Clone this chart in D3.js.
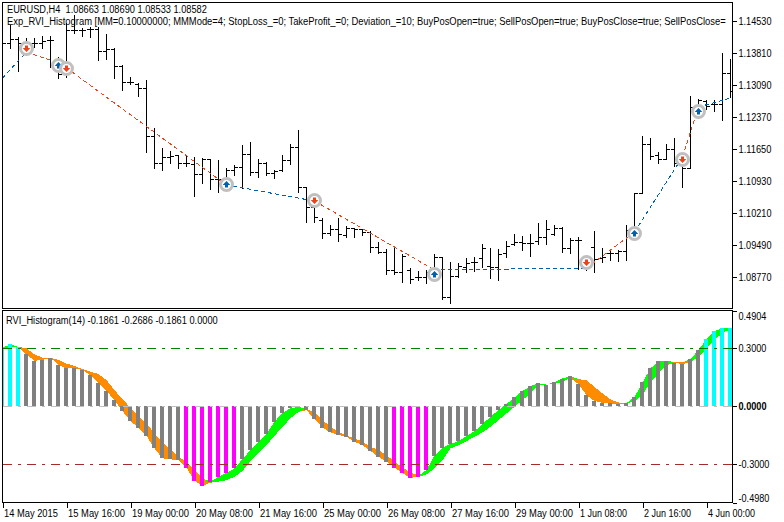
<!DOCTYPE html>
<html>
<head>
<meta charset="utf-8">
<style>
body { margin: 0; background: #fff; }
text { font-family: "Liberation Sans", sans-serif; font-size: 11px; fill: #000; white-space: pre; }
</style>
<script src="https://cdn.jsdelivr.net/npm/d3@7"></script>
</head>
<body>
<div id="chart"></div>
<script>
// price bars (EURUSD H4)
var opens = [1.14215,1.14035,1.14125,1.14035,1.14035,1.14035,1.14103,1.13653,1.13338,1.14328,1.14328,1.14350,1.14350,1.13855,1.13900,1.13518,1.13158,1.13113,1.13023,1.11943,1.11335,1.11470,1.11515,1.11335,1.11313,1.11088,1.11425,1.10975,1.10953,1.11178,1.11245,1.11538,1.11133,1.11335,1.11110,1.11178,1.11403,1.11695,1.10795,1.10345,1.10053,1.09760,1.09850,1.09715,1.09873,1.09850,1.09783,1.09445,1.09333,1.08928,1.08883,1.08928,1.08770,1.08770,1.08815,1.09220,1.08320,1.08793,1.08995,1.09108,1.09198,1.09018,1.08995,1.09310,1.09513,1.09558,1.09535,1.09580,1.09670,1.09738,1.09873,1.09423,1.09603,1.09108,1.09445,1.09198,1.09310,1.09310,1.09355,1.09828,1.10660,1.11763,1.11515,1.11425,1.11650,1.11335,1.11223,1.12595,1.12730,1.12663,1.12663,1.13360];
var highs = [1.14440,1.14440,1.14170,1.14148,1.14148,1.14193,1.14193,1.13720,1.14485,1.14665,1.14373,1.14395,1.14395,1.14238,1.13923,1.13540,1.13270,1.13135,1.13203,1.12123,1.11673,1.11605,1.11515,1.11515,1.11470,1.11448,1.11425,1.11403,1.11223,1.11290,1.11740,1.11808,1.11425,1.11358,1.11178,1.11515,1.11763,1.12078,1.10795,1.10615,1.10098,1.09940,1.10098,1.09918,1.09873,1.09850,1.09805,1.09558,1.09400,1.09423,1.09288,1.08973,1.08905,1.08928,1.09288,1.09220,1.09108,1.09085,1.09198,1.09220,1.09513,1.09423,1.09400,1.09580,1.09738,1.09693,1.09738,1.09985,1.10053,1.09940,1.09895,1.09648,1.09670,1.09265,1.09805,1.09423,1.09355,1.09378,1.09940,1.10660,1.11943,1.11898,1.11583,1.11763,1.11898,1.11515,1.12843,1.12775,1.12753,1.12753,1.13810,1.13675];
var lows = [1.13878,1.13923,1.13405,1.13765,1.13945,1.13923,1.13495,1.13248,1.13270,1.14260,1.14193,1.14170,1.13653,1.13675,1.13248,1.12978,1.13113,1.12843,1.11583,1.11223,1.11178,1.11335,1.11223,1.11268,1.10593,1.10885,1.10750,1.10683,1.10840,1.11065,1.10773,1.11065,1.11020,1.11065,1.10998,1.11155,1.11313,1.10683,1.10008,1.10008,1.09648,1.09715,1.09580,1.09670,1.09670,1.09715,1.09333,1.09310,1.08838,1.08838,1.08658,1.08635,1.08703,1.08635,1.08703,1.08275,1.08185,1.08770,1.08883,1.08905,1.08995,1.08748,1.08703,1.09220,1.09490,1.09378,1.09243,1.09513,1.09513,1.09715,1.09333,1.09310,1.08950,1.08928,1.08883,1.09108,1.09153,1.09130,1.09153,1.09828,1.10660,1.11425,1.11335,1.11425,1.11268,1.10795,1.11223,1.12348,1.12550,1.12505,1.12303,1.12820];
var closes = [1.14035,1.14125,1.14035,1.14035,1.14035,1.14080,1.14103,1.13338,1.14328,1.14328,1.14328,1.14350,1.13855,1.13900,1.13518,1.13158,1.13158,1.13023,1.11943,1.11335,1.11470,1.11493,1.11335,1.11335,1.11088,1.11425,1.10975,1.10975,1.11178,1.11245,1.11538,1.11133,1.11335,1.11110,1.11155,1.11403,1.11695,1.10795,1.10345,1.10120,1.09760,1.09850,1.09738,1.09873,1.09850,1.09783,1.09445,1.09333,1.08928,1.08883,1.09243,1.08725,1.08770,1.08883,1.09220,1.08320,1.08793,1.09018,1.09085,1.09108,1.09423,1.08995,1.09288,1.09468,1.09558,1.09535,1.09535,1.09670,1.09850,1.09873,1.09423,1.09603,1.09603,1.09018,1.09175,1.09220,1.09310,1.09355,1.09828,1.10660,1.11763,1.11493,1.11425,1.11650,1.11335,1.11223,1.12595,1.12753,1.12618,1.12663,1.13360,1.12955];

// RVI indicator, one value per bar
var rvi = [.302,.317,.305,.266,.233,.238,.249,.211,.194,.194,.185,.159,.117,.077,.031,-.026,-.077,-.111,-.153,-.218,-.269,-.274,-.278,-.317,-.384,-.410,-.389,-.364,-.343,-.321,-.273,-.226,-.187,-.141,-.081,-.034,-.012,-.003,-.021,-.067,-.111,-.135,-.149,-.158,-.183,-.201,-.230,-.261,-.286,-.316,-.346,-.369,-.364,-.329,-.255,-.214,-.195,-.180,-.154,-.129,-.093,-.055,-.021,.010,.045,.077,.103,.117,.111,.122,.142,.153,.113,.057,.026,.017,.014,.010,.015,.046,.122,.194,.231,.231,.223,.216,.242,.288,.345,.386,.400,.403];
var signal = [.288,.305,.302,.297,.266,.249,.249,.237,.219,.206,.190,.177,.165,.134,.082,.036,-.009,-.055,-.089,-.141,-.187,-.221,-.261,-.286,-.329,-.372,-.394,-.389,-.381,-.364,-.333,-.283,-.243,-.201,-.153,-.106,-.063,-.029,-.015,-.033,-.072,-.106,-.132,-.153,-.166,-.183,-.209,-.226,-.252,-.286,-.316,-.341,-.358,-.352,-.321,-.278,-.218,-.201,-.180,-.158,-.135,-.106,-.072,-.038,-.003,.031,.065,.108,.111,.115,.125,.144,.139,.132,.099,.065,.034,.019,.014,.026,.057,.125,.168,.211,.228,.225,.228,.254,.297,.340,.377,.396];

// trade path and the deal markers
var tradeIdx = [0,3,7,8,28,39,54,73,79,85,87,91];
var tradePrice = [1.13248,1.13833,1.13585,1.13473,1.10840,1.10480,1.08928,1.08973,1.09783,1.11470,1.12595,1.12798];
var tradeDir = ["up","down","up","down","up","down","up","down","up","down","up"];
var dealIdx = [3,7,8,28,39,54,73,79,85,87];
var dealPrice = [1.13923,1.13540,1.13473,1.10863,1.10503,1.08838,1.09108,1.09760,1.11425,1.12505];
var dealDir = ["down","up","down","up","down","up","down","up","down","up"];

// axes
var priceTicks = [1.14530,1.13810,1.13090,1.12370,1.11650,1.10930,1.10210,1.09490,1.08770];
var rviTicks = [0.4904,0.3000,0.0000,-0.3000,-0.4980];
var levels = [0.3, 0, -0.3];
var levelColors = ["#008000", "#c0c0c0", "#a52a2a"];
var dateIdx = [0,8,16,24,32,40,48,56,64,72,80,88];
var dateLabels = ["14 May 2015","15 May 16:00","19 May 00:00","20 May 08:00","21 May 16:00","25 May 00:00","26 May 08:00","27 May 16:00","29 May 00:00","1 Jun 08:00","2 Jun 16:00","4 Jun 00:00"];
var captions = ["EURUSD,H4  1.08663 1.08690 1.08533 1.08582",
    "Exp_RVI_Histogram [MM=0.10000000; MMMode=4; StopLoss_=0; TakeProfit_=0; Deviation_=10; BuyPosOpen=true; SellPosOpen=true; BuyPosClose=true; SellPosClose=",
    "RVI_Histogram(14) -0.1861 -0.2686 -0.1861 0.0000"];

var red = "#e8431a", blue = "#0060b0";

var svg = d3.select("#chart").append("svg")
    .attr("width", 784)
    .attr("height", 522)
    .style("display", "block");

var x = d3.scaleLinear().domain([0, 91]).range([2.5, 730.5]);
var y = d3.scaleLinear().domain([1.14530, 1.08770]).range([21, 277]);
var yr = d3.scaleLinear().domain([0.3, -0.3]).range([347.8, 464.4]);
var py = function(v) { return Math.round(y(v)) + 0.5; };

// squeeze a text to a given width, the chart font runs narrow
function fit(node, left, width) {
    var len = node.getComputedTextLength();
    d3.select(node).attr("x", 0).attr("transform", `translate(${left}, 0) scale(${width / len}, 1)`);
}

// clip so nothing spills over the panel frames
svg.append("clipPath").attr("id", "top-clip").append("rect")
    .attr("x", 3).attr("y", 3).attr("width", 729).attr("height", 305);
svg.append("clipPath").attr("id", "low-clip").append("rect")
    .attr("x", 3).attr("y", 311).attr("width", 729).attr("height", 191);

//// upper panel
var upper = svg.append("g").attr("clip-path", "url(#top-clip)");

// bars
var bars = upper.append("g").attr("stroke", "#000").attr("shape-rendering", "crispEdges")
    .selectAll("g").data(opens).enter().append("g");
bars.append("line")
    .attr("x1", (d, i) => x(i)).attr("x2", (d, i) => x(i))
    .attr("y1", (d, i) => py(highs[i]) - 0.5).attr("y2", (d, i) => py(lows[i]) + 0.5);
bars.append("line")
    .attr("x1", (d, i) => x(i) - 3.5).attr("x2", (d, i) => x(i))
    .attr("y1", d => py(d)).attr("y2", d => py(d));
bars.append("line")
    .attr("x1", (d, i) => x(i)).attr("x2", (d, i) => x(i) + 3.5)
    .attr("y1", (d, i) => py(closes[i])).attr("y2", (d, i) => py(closes[i]));

// dashed trade lines
upper.append("g").attr("fill", "none").attr("stroke-dasharray", "4 3").attr("shape-rendering", "crispEdges")
    .selectAll("line").data(tradeDir).enter().append("line")
    .attr("stroke", d => d == "up" ? blue : red)
    .attr("x1", (d, i) => x(tradeIdx[i])).attr("y1", (d, i) => y(tradePrice[i]))
    .attr("x2", (d, i) => x(tradeIdx[i + 1])).attr("y2", (d, i) => y(tradePrice[i + 1]));

// deal markers: grey ring with an arrow in it
var deals = upper.append("g").selectAll("g").data(dealDir).enter().append("g")
    .attr("transform", (d, i) => `translate(${x(dealIdx[i])}, ${py(dealPrice[i])})`);
deals.append("circle").attr("r", 6)
    .attr("fill", "#fff").attr("stroke", "#c0c0c0").attr("stroke-width", 3);
deals.append("path")
    .attr("d", d => d == "up"
        ? "M0,-3.5L3.8,0.5L1.5,0.5L1.5,3L-1.5,3L-1.5,0.5L-3.8,0.5Z"
        : "M0,3.5L3.8,-0.5L1.5,-0.5L1.5,-3L-1.5,-3L-1.5,-0.5L-3.8,-0.5Z")
    .attr("fill", d => d == "up" ? blue : red);

//// lower panel
var lower = svg.append("g").attr("clip-path", "url(#low-clip)");

// cloud between the two lines
var greenArea = d3.area().x((d, i) => x(i))
    .y0((d, i) => yr(signal[i])).y1((d, i) => yr(Math.max(d, signal[i])));
var orangeArea = d3.area().x((d, i) => x(i))
    .y0((d, i) => yr(signal[i])).y1((d, i) => yr(Math.min(d, signal[i])));
lower.append("path").attr("d", orangeArea(rvi)).attr("fill", "#ff8c00").attr("shape-rendering", "crispEdges");
lower.append("path").attr("d", greenArea(rvi)).attr("fill", "#00ff00").attr("shape-rendering", "crispEdges");

// histogram
lower.append("g").attr("shape-rendering", "crispEdges")
    .selectAll("rect").data(rvi).enter().append("rect")
    .attr("x", (d, i) => x(i) - 2.5)
    .attr("width", 4)
    .attr("y", d => Math.min(yr(d), yr(0)))
    .attr("height", d => Math.abs(yr(d) - yr(0)))
    .attr("fill", d => d > 0.3 ? "#00ffff" : d < -0.3 ? "#ff00ff" : "#808080");

// level lines
lower.append("g").selectAll("line").data(levels).enter().append("line")
    .attr("x1", 3).attr("x2", 732)
    .attr("y1", d => Math.round(yr(d)) + 0.5).attr("y2", d => Math.round(yr(d)) + 0.5)
    .attr("stroke", (d, i) => levelColors[i])
    .attr("stroke-dasharray", "9 6 3 6")
    .attr("shape-rendering", "crispEdges");

//// frames
svg.append("g").attr("fill", "none").attr("stroke", "#000").attr("shape-rendering", "crispEdges")
    .selectAll("rect").data([[2.5, 2.5, 730, 306], [2.5, 310.5, 730, 192]]).enter().append("rect")
    .attr("x", d => d[0]).attr("y", d => d[1]).attr("width", d => d[2]).attr("height", d => d[3]);

//// axes (toFixed keeps the plain hyphen the terminal prints)
var priceAxis = d3.axisRight(y).tickValues(priceTicks).tickFormat(d => d.toFixed(5)).tickSize(4).tickPadding(2);
var rviAxis = d3.axisRight(yr).tickValues(rviTicks).tickFormat(d => d.toFixed(4)).tickSize(4).tickPadding(2);
var dateAxis = d3.axisBottom(x).tickValues(dateIdx).tickFormat((d, i) => dateLabels[i]).tickSize(5).tickPadding(2);

var gPrice = svg.append("g").attr("transform", "translate(732.5, 0)").call(priceAxis);
var gRvi = svg.append("g").attr("transform", "translate(732.5, 0)").call(rviAxis);
var gDate = svg.append("g").attr("transform", "translate(0, 502.5)").call(dateAxis);

[gPrice, gRvi, gDate].forEach(function(g) {
    g.select(".domain").remove();
    g.attr("font-family", null).attr("font-size", null);
    g.selectAll("line").attr("stroke", "#000").attr("shape-rendering", "crispEdges");
    g.selectAll("text").attr("fill", "#000");
});

// first and last scale labels sit inside the panel
gPrice.selectAll("text").attr("dy", "0.32em").each(function() { fit(this, 6, 33); });
gRvi.selectAll("text")
    .attr("dy", (d, i) => i == 0 ? "0.8em" : i == rviTicks.length - 1 ? "-0.1em" : "0.32em")
    .attr("font-weight", d => d == 0 ? "bold" : null)
    .each(function(d) { fit(this, 6, d < 0 ? 31 : 28); });

gDate.selectAll("text")
    .attr("text-anchor", "start")
    .each(function(d, i) { fit(this, 1, i == 0 ? 54 : dateLabels[i].length == 11 ? 47 : 57); });

//// captions
var capLeft = [7, 7, 6], capBase = [13, 25, 324], capWidth = [200, 720, 212];
svg.append("g").selectAll("text").data(captions).enter().append("text")
    .attr("y", (d, i) => capBase[i])
    .text(d => d)
    .each(function(d, i) { fit(this, capLeft[i], capWidth[i]); });
</script>
</body>
</html>
